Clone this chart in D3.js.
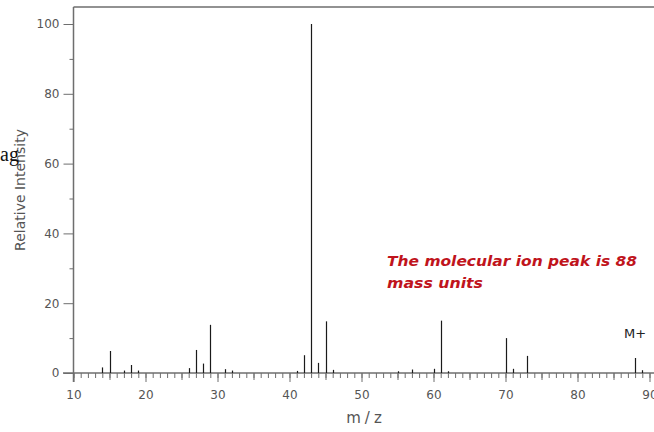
<!DOCTYPE html>
<html lang="en">
<head>
<meta charset="UTF-8" />
<title>Mass spectrum</title>
<script src="https://cdn.jsdelivr.net/npm/d3@7"></script>
<style>
  html, body { margin: 0; padding: 0; background: #fff; }
  svg { display: block; }
  .axis path, .axis line { stroke: #6e6e6e; }
  .axis text { fill: #555; font-family: "DejaVu Sans", sans-serif; font-size: 12px; }
</style>
</head>
<body>
<div id="chart"></div>
<script>
// m/z values and relative intensities
const mz = [14, 15, 17, 18, 19, 26, 27, 28, 29, 31, 32, 41, 42, 43, 44, 45, 46, 55, 57, 60, 61, 62, 70, 71, 73, 88, 89];
const intensity = [1.6, 6.3, 0.7, 2.3, 0.7, 1.4, 6.6, 2.7, 13.8, 1.1, 0.7, 0.6, 5.1, 100, 2.9, 14.8, 0.9, 0.5, 1, 1.2, 15, 0.5, 10, 1.2, 4.9, 4.3, 0.8];
const xTicks = [10, 20, 30, 40, 50, 60, 70, 80, 90];
const yTicks = [0, 20, 40, 60, 80, 100];
const yMinor = [10, 30, 50, 70, 90];
const note = ["The molecular ion peak is 88", "mass units"];

const W = 654, H = 432;
const svg = d3.select("#chart").append("svg").attr("width", W).attr("height", H);

const x = d3.scaleLinear().domain([10, 90]).range([73.5, 649.5]);
const y = d3.scaleLinear().domain([0, 100]).range([373, 24]);

// top border
svg.append("line")
  .attr("x1", 73.5).attr("x2", W).attr("y1", 7).attr("y2", 7)
  .attr("stroke", "#6e6e6e").attr("stroke-width", 1.5);

// y axis
const yAxis = svg.append("g").attr("class", "axis")
  .attr("transform", "translate(73.5,0)")
  .call(d3.axisLeft(y).tickValues(yTicks).tickSize(10).tickPadding(4).tickSizeOuter(0));
yAxis.select(".domain").remove();
svg.append("g").attr("class", "axis")
  .attr("transform", "translate(73.5,0)")
  .call(d3.axisLeft(y).tickValues(yMinor).tickSize(4).tickFormat(""))
  .select(".domain").remove();
svg.append("line")
  .attr("x1", 73.5).attr("x2", 73.5).attr("y1", 7).attr("y2", 382)
  .attr("stroke", "#6e6e6e").attr("stroke-width", 1.5);

// x axis: minor, mid and major ticks
const allUnits = d3.range(10, 91);
svg.append("g").attr("class", "axis")
  .attr("transform", "translate(0,373)")
  .call(d3.axisBottom(x).tickValues(allUnits).tickSize(5).tickFormat(""))
  .select(".domain").remove();
svg.append("g").attr("class", "axis")
  .attr("transform", "translate(0,373)")
  .call(d3.axisBottom(x).tickValues(d3.range(15, 91, 10)).tickSize(7).tickFormat(""))
  .select(".domain").remove();
const xAxis = svg.append("g").attr("class", "axis")
  .attr("transform", "translate(0,373)")
  .call(d3.axisBottom(x).tickValues(xTicks).tickSize(9).tickPadding(8));
xAxis.select(".domain").remove();
svg.append("line")
  .attr("x1", 63).attr("x2", W).attr("y1", 373).attr("y2", 373)
  .attr("stroke", "#6e6e6e").attr("stroke-width", 1.5);

// peaks
svg.append("g").selectAll("line")
  .data(mz)
  .join("line")
  .attr("x1", d => Math.round(x(d)) + 0.5)
  .attr("x2", d => Math.round(x(d)) + 0.5)
  .attr("y1", y(0))
  .attr("y2", (d, i) => y(intensity[i]))
  .attr("stroke", "#1a1a1a")
  .attr("stroke-width", 1.2);

// axis titles
svg.append("text")
  .attr("transform", "translate(25,190) rotate(-90)")
  .attr("text-anchor", "middle")
  .style("font-family", "'DejaVu Sans', sans-serif")
  .style("font-size", "14px")
  .style("fill", "#555")
  .text("Relative Intensity");

svg.append("text")
  .attr("x", 366).attr("y", 423)
  .attr("text-anchor", "middle")
  .style("font-family", "'DejaVu Sans', sans-serif")
  .style("font-size", "15px")
  .style("letter-spacing", "4px")
  .style("fill", "#555")
  .text("m/z");

// leftover caption fragment
svg.append("text")
  .attr("x", 0).attr("y", 161)
  .style("font-family", "'Liberation Serif', serif")
  .style("font-size", "20px")
  .style("fill", "#111")
  .text("ag");

// annotation
svg.append("g").selectAll("text")
  .data(note)
  .join("text")
  .attr("x", 387)
  .attr("y", (d, i) => 266 + i * 22)
  .attr("textLength", (d, i) => i === 0 ? 250 : 96)
  .attr("lengthAdjust", "spacingAndGlyphs")
  .style("font-family", "'DejaVu Sans', sans-serif")
  .style("font-style", "italic")
  .style("font-weight", "bold")
  .style("font-size", "14px")
  .style("fill", "#c0141c")
  .text(d => d);

svg.append("text")
  .attr("x", 624).attr("y", 338)
  .style("font-family", "'DejaVu Sans', sans-serif")
  .style("font-size", "13px")
  .style("fill", "#222")
  .text("M+");
</script>
</body>
</html>
